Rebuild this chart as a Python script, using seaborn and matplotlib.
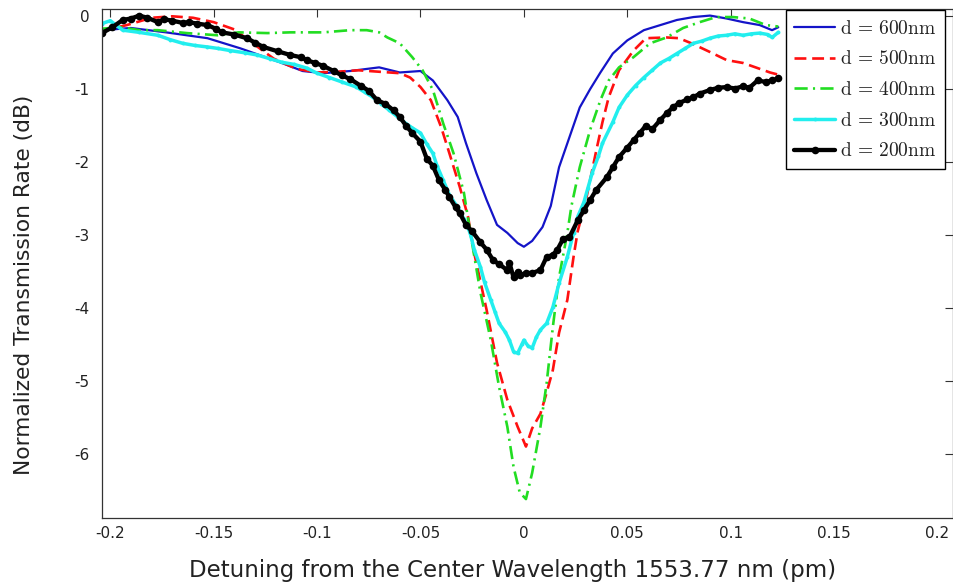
import numpy as np
import pandas as pd
import matplotlib
matplotlib.use("Agg")
import matplotlib.pyplot as plt
import seaborn as sns

# ---------------- data ----------------
x600 = [-0.204, -0.190, -0.173, -0.153, -0.137, -0.118, -0.107, -0.097, -0.084, -0.070,
        -0.060, -0.050, -0.044, -0.037, -0.032, -0.028, -0.023, -0.018, -0.013, -0.008,
        -0.003, 0.000, 0.004, 0.009, 0.013, 0.017, 0.022, 0.027, 0.032, 0.037,
        0.043, 0.050, 0.058, 0.066, 0.074, 0.082, 0.090, 0.098, 0.106, 0.114, 0.120, 0.123]
y600 = [-0.19, -0.16, -0.22, -0.30, -0.44, -0.63, -0.75, -0.78, -0.75, -0.70,
        -0.77, -0.75, -0.88, -1.15, -1.38, -1.74, -2.15, -2.52, -2.86, -2.97,
        -3.11, -3.16, -3.08, -2.89, -2.60, -2.07, -1.66, -1.25, -1.00, -0.77,
        -0.51, -0.33, -0.19, -0.12, -0.05, -0.01, 0.01, -0.03, -0.08, -0.12, -0.19, -0.15]

x500 = [-0.204, -0.192, -0.180, -0.170, -0.160, -0.150, -0.140, -0.133, -0.121, -0.110,
        -0.100, -0.090, -0.080, -0.070, -0.060, -0.055, -0.050, -0.045, -0.040, -0.036,
        -0.031, -0.027, -0.024, -0.018, -0.013, -0.008, -0.003, 0.001, 0.004, 0.008,
        0.011, 0.014, 0.017, 0.021, 0.024, 0.026, 0.030, 0.035, 0.038, 0.041,
        0.046, 0.053, 0.059, 0.069, 0.075, 0.081, 0.090, 0.098, 0.106, 0.112, 0.119, 0.123]
y500 = [-0.20, -0.12, -0.02, 0.00, -0.02, -0.08, -0.18, -0.33, -0.58, -0.72,
        -0.77, -0.76, -0.74, -0.76, -0.78, -0.84, -0.97, -1.15, -1.52, -1.88,
        -2.34, -2.75, -3.25, -4.03, -4.75, -5.26, -5.63, -5.90, -5.65, -5.45,
        -5.16, -4.85, -4.34, -3.89, -3.30, -2.95, -2.52, -1.84, -1.45, -1.11,
        -0.74, -0.47, -0.30, -0.29, -0.30, -0.37, -0.49, -0.60, -0.64, -0.70, -0.77, -0.80]

x400 = [-0.204, -0.195, -0.186, -0.177, -0.163, -0.148, -0.138, -0.124, -0.113, -0.097,
        -0.084, -0.076, -0.070, -0.066, -0.060, -0.054, -0.049, -0.044, -0.039, -0.034,
        -0.029, -0.026, -0.021, -0.016, -0.012, -0.008, -0.005, -0.002, 0.001, 0.004,
        0.008, 0.011, 0.014, 0.017, 0.021, 0.023, 0.027, 0.032, 0.037, 0.041,
        0.046, 0.053, 0.061, 0.069, 0.077, 0.085, 0.093, 0.101, 0.109, 0.117, 0.123]
y400 = [-0.17, -0.15, -0.19, -0.19, -0.23, -0.26, -0.22, -0.23, -0.22, -0.22,
        -0.19, -0.19, -0.22, -0.29, -0.37, -0.56, -0.74, -1.01, -1.47, -1.88,
        -2.42, -2.95, -3.79, -4.44, -5.08, -5.63, -6.18, -6.53, -6.62, -6.26,
        -5.63, -5.03, -4.26, -3.58, -2.97, -2.60, -2.07, -1.56, -1.15, -0.88,
        -0.70, -0.56, -0.37, -0.29, -0.16, -0.08, -0.01, -0.01, -0.03, -0.12, -0.14]

x300 = [-0.204, -0.200, -0.194, -0.186, -0.177, -0.171, -0.165, -0.159, -0.153, -0.148,
        -0.142, -0.135, -0.129, -0.123, -0.117, -0.111, -0.105, -0.100, -0.094, -0.088,
        -0.081, -0.077, -0.073, -0.069, -0.065, -0.061, -0.057, -0.054, -0.050, -0.047,
        -0.044, -0.042, -0.039, -0.036, -0.032, -0.029, -0.026, -0.024, -0.021, -0.019,
        -0.016, -0.014, -0.012, -0.009, -0.007, -0.005, -0.003, -0.001, 0.000, 0.002,
        0.004, 0.006, 0.008, 0.011, 0.014, 0.017, 0.021, 0.024, 0.026, 0.029,
        0.031, 0.033, 0.036, 0.038, 0.043, 0.046, 0.050, 0.054, 0.058, 0.062,
        0.066, 0.070, 0.074, 0.078, 0.082, 0.086, 0.090, 0.094, 0.098, 0.102,
        0.106, 0.110, 0.114, 0.118, 0.120, 0.123]
y300 = [-0.10, -0.06, -0.19, -0.22, -0.26, -0.32, -0.37, -0.40, -0.42, -0.44,
        -0.47, -0.50, -0.53, -0.58, -0.63, -0.66, -0.71, -0.78, -0.84, -0.90,
        -0.97, -1.04, -1.11, -1.20, -1.29, -1.38, -1.47, -1.53, -1.60, -1.75,
        -1.88, -2.05, -2.25, -2.45, -2.62, -2.78, -2.97, -3.20, -3.44, -3.65,
        -3.89, -4.05, -4.21, -4.33, -4.44, -4.60, -4.62, -4.50, -4.44, -4.52,
        -4.55, -4.40, -4.30, -4.21, -3.99, -3.66, -3.30, -2.97, -2.75, -2.55,
        -2.35, -2.15, -1.92, -1.74, -1.45, -1.25, -1.08, -0.95, -0.84, -0.74,
        -0.64, -0.58, -0.51, -0.44, -0.37, -0.34, -0.30, -0.27, -0.26, -0.24,
        -0.26, -0.24, -0.23, -0.25, -0.29, -0.22]

x200 = [-0.204, -0.199, -0.194, -0.190, -0.186, -0.182, -0.177, -0.174, -0.170, -0.165,
        -0.162, -0.158, -0.153, -0.149, -0.146, -0.140, -0.134, -0.130, -0.126, -0.119,
        -0.113, -0.108, -0.105, -0.101, -0.097, -0.092, -0.088, -0.084, -0.079, -0.075,
        -0.071, -0.067, -0.063, -0.060, -0.057, -0.054, -0.050, -0.047, -0.044, -0.041,
        -0.038, -0.036, -0.033, -0.031, -0.028, -0.025, -0.021, -0.018, -0.015, -0.012,
        -0.008, -0.007, -0.005, -0.003, -0.002, 0.001, 0.004, 0.008, 0.011, 0.014,
        0.016, 0.019, 0.022, 0.026, 0.029, 0.032, 0.035, 0.040, 0.043, 0.046,
        0.050, 0.053, 0.056, 0.059, 0.062, 0.066, 0.069, 0.072, 0.075, 0.079,
        0.082, 0.085, 0.090, 0.094, 0.098, 0.102, 0.106, 0.109, 0.113, 0.117, 0.120, 0.123]
y200 = [-0.23, -0.15, -0.05, -0.03, 0.01, -0.02, -0.08, -0.04, -0.06, -0.09,
        -0.08, -0.10, -0.12, -0.17, -0.22, -0.25, -0.30, -0.36, -0.42, -0.48,
        -0.53, -0.56, -0.60, -0.64, -0.68, -0.75, -0.81, -0.86, -0.95, -1.02,
        -1.15, -1.20, -1.29, -1.38, -1.50, -1.60, -1.72, -1.95, -2.05, -2.25,
        -2.38, -2.48, -2.62, -2.70, -2.86, -2.95, -3.10, -3.20, -3.34, -3.40,
        -3.48, -3.38, -3.58, -3.50, -3.55, -3.52, -3.52, -3.48, -3.30, -3.27,
        -3.21, -3.05, -3.03, -2.80, -2.66, -2.52, -2.38, -2.21, -2.07, -1.93,
        -1.80, -1.70, -1.60, -1.50, -1.55, -1.42, -1.33, -1.25, -1.19, -1.14,
        -1.11, -1.06, -1.01, -0.98, -0.97, -0.99, -0.96, -0.98, -0.88, -0.90, -0.88, -0.85]

labels = [r"$\mathrm{d}\,=\,600\mathrm{nm}$", r"$\mathrm{d}\,=\,500\mathrm{nm}$",
          r"$\mathrm{d}\,=\,400\mathrm{nm}$", r"$\mathrm{d}\,=\,300\mathrm{nm}$",
          r"$\mathrm{d}\,=\,200\mathrm{nm}$"]
xticks = [-0.2, -0.15, -0.1, -0.05, 0, 0.05, 0.1, 0.15, 0.2]
xticklabels = ["-0.2", "-0.15", "-0.1", "-0.05", "0", "0.05", "0.1", "0.15", "0.2"]
yticks = [0, -1, -2, -3, -4, -5, -6]
yticklabels = ["0", "-1", "-2", "-3", "-4", "-5", "-6"]

# ---------------- style ----------------
sns.set_theme(style="white")
plt.rcParams["font.family"] = ["DejaVu Sans"]
plt.rcParams["mathtext.fontset"] = "cm"
plt.rcParams["axes.unicode_minus"] = False

fig = plt.figure(figsize=(9.54, 5.86), dpi=100)
ax = fig.add_axes([0.1069, 0.116, 0.8921, 0.8686])

series = [
    (x600, y600, labels[0], dict(color="#1414c8", linewidth=1.6, linestyle="-")),
    (x500, y500, labels[1], dict(color="#ff1010", linewidth=1.9, linestyle=(0, (4.5, 2.2)))),
    (x400, y400, labels[2], dict(color="#22dd22", linewidth=1.9, linestyle=(0, (5, 2, 0.8, 2)))),
    (x300, y300, labels[3], dict(color="#22eeee", linewidth=2.5, linestyle="-",
                                 marker="o", markersize=2.8, markeredgewidth=0)),
    (x200, y200, labels[4], dict(color="black", linewidth=3.1, linestyle="-",
                                 marker="o", markersize=5.5, markeredgewidth=0)),
]
for xs, ys, lab, kw in series:
    df = pd.DataFrame({"x": xs, "y": ys})
    sns.lineplot(data=df, x="x", y="y", ax=ax, sort=False, estimator=None,
                 label=lab, **kw)

ax.set_xlim(-0.204, 0.2075)
ax.set_ylim(-6.88, 0.1)
ax.set_xticks(xticks)
ax.set_xticklabels(xticklabels)
ax.set_yticks(yticks)
ax.set_yticklabels(yticklabels)
ax.tick_params(axis="both", direction="in", length=6, width=0.8, color="#333333",
               labelsize=11, labelcolor="#222222", top=True, right=True)
ax.tick_params(axis="x", pad=6)
ax.tick_params(axis="y", pad=9)
for s in ax.spines.values():
    s.set_color("#333333")
    s.set_linewidth(0.9)

ax.set_xlabel("Detuning from the Center Wavelength 1553.77 nm (pm)", fontsize=16.5, color="#222222")
ax.set_ylabel("Normalized Transmission Rate (dB)", fontsize=15.7, color="#222222")
ax.xaxis.set_label_coords(0.482, -0.081)
ax.yaxis.set_label_coords(-0.080, 0.458)

leg = ax.legend(loc="upper right", bbox_to_anchor=(0.9906, 0.998), borderaxespad=0,
                fontsize=14, frameon=True, fancybox=False, framealpha=1,
                edgecolor="black", handlelength=2.1, handletextpad=0.25,
                labelspacing=0.6, borderpad=0.45)
leg.get_frame().set_linewidth(1.0)
for t in leg.get_texts():
    t.set_color("#222222")

fig.savefig("out.png", dpi=100)
